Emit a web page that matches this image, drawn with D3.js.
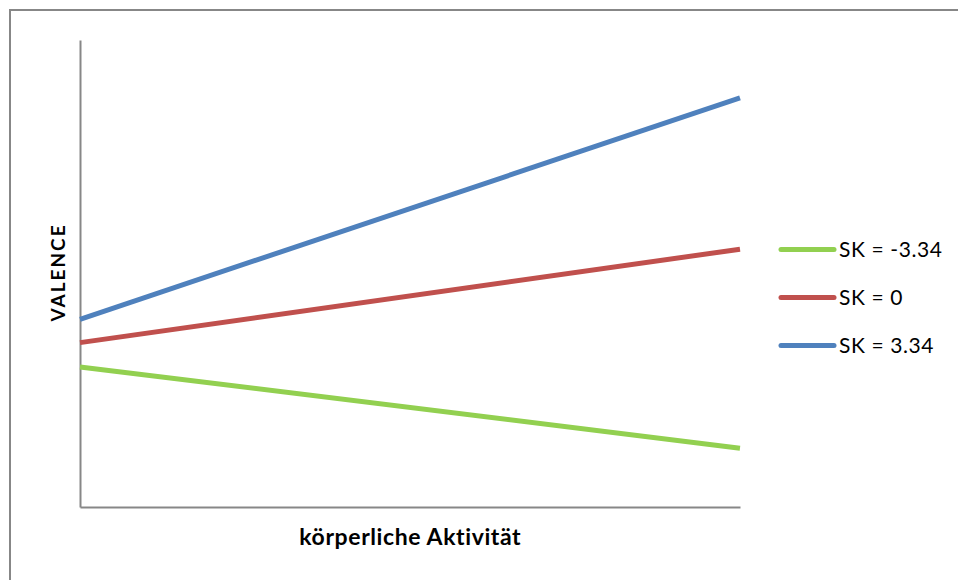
<!DOCTYPE html>
<html>
<head>
<meta charset="utf-8">
<script src="https://cdn.jsdelivr.net/npm/d3@7"></script>
<style>
  html, body { margin: 0; padding: 0; background: #fff; }
  svg { display: block; font-family: Lato, "Open Sans", Arial, sans-serif; }
</style>
</head>
<body>
<svg id="chart" width="958" height="580"></svg>
<script>
// Simple slopes: predicted valence at low / high physical activity
const activityLevels = [-1, 1];
const seriesNames = ["SK = -3.34", "SK = 0", "SK = 3.34"];
const valenceLow  = [1.50, 1.76, 2.01];
const valenceHigh = [0.63, 2.76, 4.38];
const seriesColors = ["#92D050", "#C0504D", "#4F81BD"];

const svg = d3.select("#chart");
const W = 958, H = 580;
const plot = { left: 80, right: 740, top: 40, bottom: 507 };

// Outer chart frame
svg.append("rect")
  .attr("x", 10).attr("y", 10)
  .attr("width", W).attr("height", H)
  .attr("fill", "none")
  .attr("stroke", "#878787")
  .attr("stroke-width", 2);

const x = d3.scaleLinear().domain([-1, 1]).range([plot.left, plot.right]);
const y = d3.scaleLinear().domain([0, 5]).range([plot.bottom, plot.top]);

// Axes without ticks or labels
const xAxis = d3.axisBottom(x).tickValues([]).tickSizeOuter(0);
const yAxis = d3.axisLeft(y).tickValues([]).tickSizeOuter(0);

svg.append("g")
  .attr("transform", `translate(0,${plot.bottom})`)
  .call(xAxis)
  .call(g => g.select(".domain").attr("stroke", "#878787").attr("stroke-width", 2));

svg.append("g")
  .attr("transform", `translate(${plot.left},0)`)
  .call(yAxis)
  .call(g => g.select(".domain").attr("stroke", "#878787").attr("stroke-width", 2));

// Series lines
const series = seriesNames.map((name, i) => ({
  name,
  color: seriesColors[i],
  points: activityLevels.map((a, j) => ({ a, v: j === 0 ? valenceLow[i] : valenceHigh[i] }))
}));

const line = d3.line().x(d => x(d.a)).y(d => y(d.v));

svg.append("g")
  .selectAll("path")
  .data(series)
  .join("path")
  .attr("d", d => line(d.points))
  .attr("fill", "none")
  .attr("stroke", d => d.color)
  .attr("stroke-width", 5);

// Axis titles
svg.append("text")
  .attr("x", (plot.left + plot.right) / 2 + 0.3)
  .attr("y", 545)
  .attr("text-anchor", "middle")
  .attr("font-weight", "bold")
  .attr("font-size", 23)
  .attr("letter-spacing", 0.6)
  .attr("fill", "#000")
  .text("körperliche Aktivität");

svg.append("text")
  .attr("transform", `translate(65,${272.5}) rotate(-90)`)
  .attr("text-anchor", "middle")
  .attr("font-weight", "bold")
  .attr("font-size", 19)
  .attr("letter-spacing", 2)
  .attr("fill", "#000")
  .text("VALENCE");

// Legend
const legendY = d3.scalePoint().domain(seriesNames).range([249.5, 345.5]);
const legend = svg.append("g")
  .selectAll("g")
  .data(series)
  .join("g")
  .attr("transform", d => `translate(0,${legendY(d.name)})`);

legend.append("line")
  .attr("x1", 781).attr("x2", 834)
  .attr("stroke", d => d.color)
  .attr("stroke-width", 5)
  .attr("stroke-linecap", "round");

legend.append("text")
  .attr("x", 839)
  .attr("y", 7.5)
  .attr("font-size", 21)
  .attr("letter-spacing", 0.6)
  .attr("fill", "#000")
  .text(d => d.name);
</script>
</body>
</html>
